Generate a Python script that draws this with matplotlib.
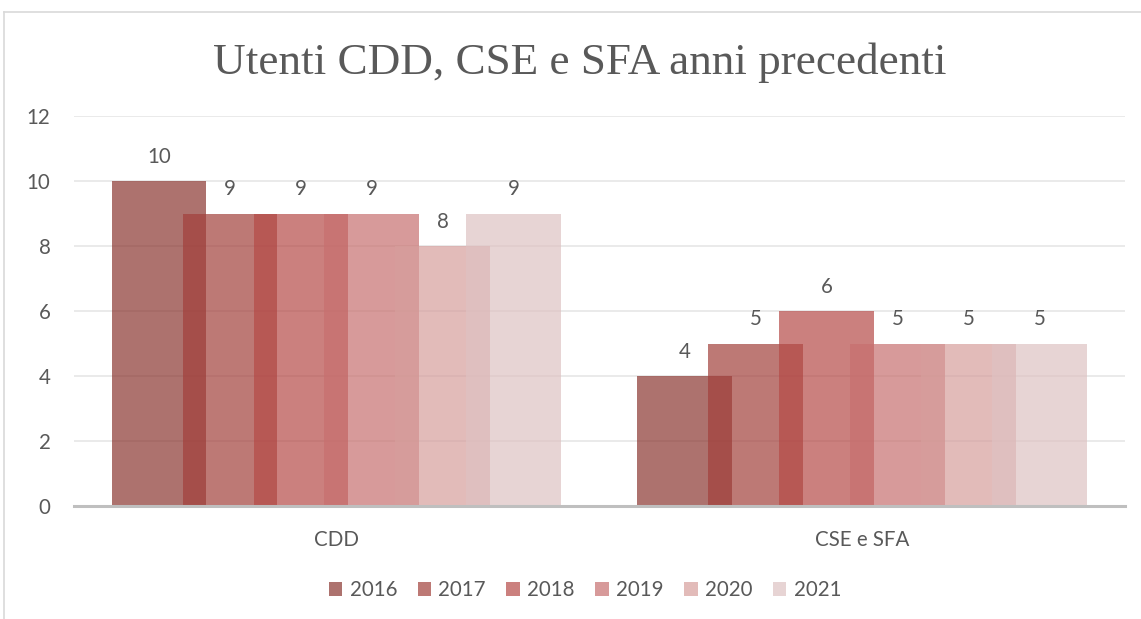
import matplotlib
matplotlib.use("Agg")
import matplotlib.pyplot as plt
from matplotlib.lines import Line2D
import numpy as np

categories = ["CDD", "CSE e SFA"]
years = ["2016", "2017", "2018", "2019", "2020", "2021"]
values_2016 = [10, 4]
values_2017 = [9, 5]
values_2018 = [9, 6]
values_2019 = [9, 5]
values_2020 = [8, 5]
values_2021 = [9, 5]
series = [values_2016, values_2017, values_2018, values_2019, values_2020, values_2021]
colors = ["#8a3630", "#a2403b", "#b54a47", "#c7706f", "#d69e9c", "#dec2c2"]
alpha = 0.7

text_color = "#595959"
font = "Lato"
fs = 14.8

W, H = 1141, 619
fig = plt.figure(figsize=(W / 100, H / 100), dpi=100)
fig.patch.set_facecolor("white")

ax = fig.add_axes([73.5 / W, 1 - 506 / H, (1124.8 - 73.5) / W, (506 - 116) / H])

x = np.arange(len(categories))
bar_w = 0.180
step = 0.135
for i, (vals, c) in enumerate(zip(series, colors)):
    off = (i - (len(series) - 1) / 2) * step
    ax.bar(x + off, vals, width=bar_w, color=c, alpha=alpha, linewidth=0,
           label=years[i], zorder=2 + i)
    for xi, v in zip(x + off, vals):
        ax.annotate(str(v), (xi, v), xytext=(0, 13), textcoords="offset points",
                    ha="center", va="baseline", fontsize=fs, color=text_color,
                    family=font, zorder=20)

ax.set_xlim(-0.5, 1.5)
ax.set_ylim(0, 12)
ax.set_yticks(range(0, 13, 2))
ax.yaxis.grid(True, color="#e8e8e8", linewidth=1.3, zorder=0)
ax.set_axisbelow(True)
for s in ["top", "right", "left"]:
    ax.spines[s].set_visible(False)
ax.spines["bottom"].set_color("#bfbfbf")
ax.spines["bottom"].set_linewidth(2.2)
ax.spines["bottom"].set_zorder(30)
ax.tick_params(axis="both", length=0, labelsize=fs, labelcolor=text_color)
ax.tick_params(axis="y", pad=16.5)
ax.tick_params(axis="x", pad=17)
ax.set_xticks(x)
ax.set_xticklabels(categories)
for lab in ax.get_xticklabels() + ax.get_yticklabels():
    lab.set_family(font)
ax.set_facecolor("none")

fig.text(0.508, 1 - 63 / H, "Utenti CDD, CSE e SFA anni precedenti", ha="center",
         va="center", fontsize=32.5, color=text_color, family="Liberation Serif")

leg = fig.legend(loc="center", bbox_to_anchor=(585 / W, 1 - 590 / H), ncol=6,
                 frameon=False, handlelength=0.66, handleheight=0.66,
                 handletextpad=0.35, columnspacing=1.0,
                 prop={"family": font, "size": fs})
for t in leg.get_texts():
    t.set_color(text_color)

# chart border
fig.add_artist(Line2D([4 / W, 1], [1 - 12 / H, 1 - 12 / H], color="#d9d9d9", linewidth=1.2))
fig.add_artist(Line2D([4 / W, 4 / W], [0, 1 - 12 / H], color="#d9d9d9", linewidth=1.2))

fig.savefig("out.png", dpi=100)
